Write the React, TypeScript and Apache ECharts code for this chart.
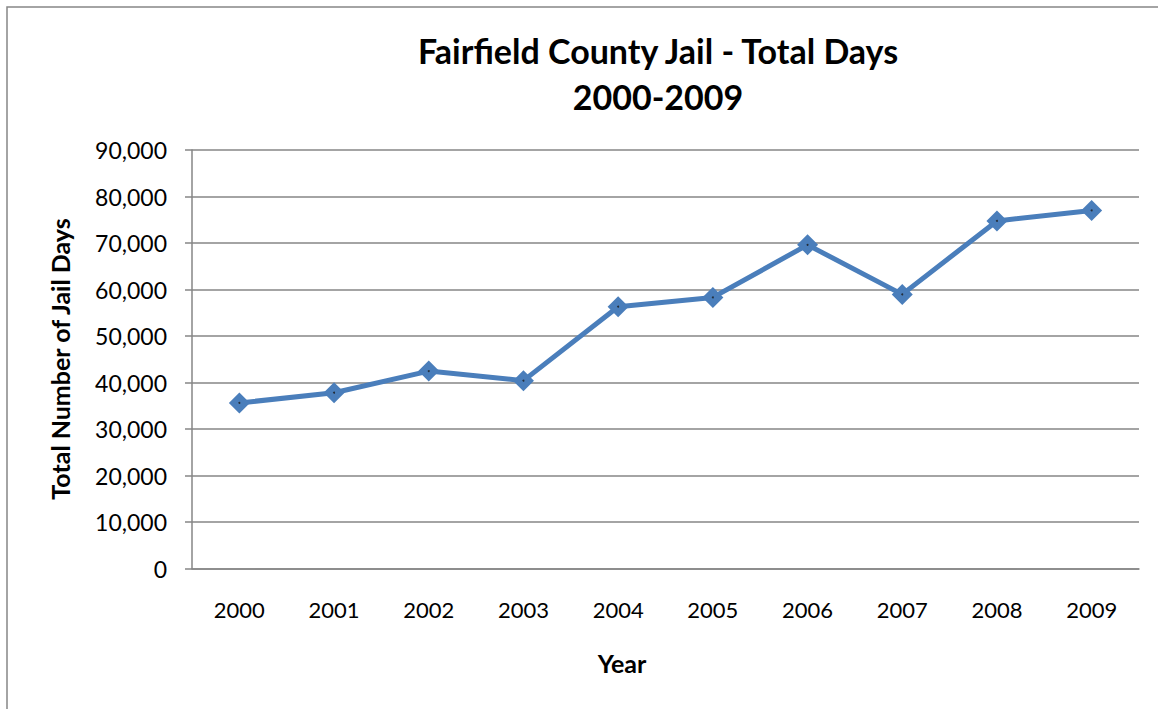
import React, { useEffect, useRef } from "react";
import * as echarts from "echarts";

const years = ["2000", "2001", "2002", "2003", "2004", "2005", "2006", "2007", "2008", "2009"];
const totalDays = [35600, 37800, 42450, 40400, 56300, 58300, 69600, 58950, 74750, 77000];
const titleLines = ["Fairfield County Jail - Total Days", "2000-2009"];
const yAxisTitle = "Total Number of Jail Days";
const xAxisTitle = "Year";

const FONT = "Lato, 'Open Sans', sans-serif";

export default function App() {
  const ref = useRef<HTMLDivElement>(null);
  useEffect(() => {
    if (!ref.current) return;
    const chart = echarts.init(ref.current, null, { renderer: "svg" });
    chart.setOption({
      animation: false,
      backgroundColor: "#ffffff",
      grid: { left: 192, right: 19, top: 150, bottom: 140.5, containLabel: false },
      graphic: [
        {
          type: "rect",
          shape: { x: 7, y: 7, width: 1300, height: 900 },
          style: { fill: "none", stroke: "#878787", lineWidth: 1.5 },
          silent: true,
          z: -1,
        },
        {
          type: "text",
          x: 658,
          y: 50,
          style: {
            text: titleLines[0],
            fill: "#000",
            font: `bold 34px ${FONT}`,
            textAlign: "center",
            textVerticalAlign: "middle",
          },
        },
        {
          type: "text",
          x: 658,
          y: 96,
          style: {
            text: titleLines[1],
            fill: "#000",
            font: `bold 34px ${FONT}`,
            textAlign: "center",
            textVerticalAlign: "middle",
          },
        },
        {
          type: "text",
          x: 60,
          y: 359,
          rotation: Math.PI / 2,
          style: {
            text: yAxisTitle,
            fill: "#000",
            font: `bold 25px ${FONT}`,
            textAlign: "center",
            textVerticalAlign: "middle",
          },
        },
        {
          type: "text",
          x: 622,
          y: 663,
          style: {
            text: xAxisTitle,
            fill: "#000",
            font: `bold 25px ${FONT}`,
            textAlign: "center",
            textVerticalAlign: "middle",
          },
        },
      ],
      xAxis: {
        type: "category",
        data: years,
        boundaryGap: true,
        axisLine: { show: true, lineStyle: { color: "#868686", width: 1.5 } },
        axisTick: { show: false },
        axisLabel: { color: "#000", fontSize: 22, fontFamily: FONT, margin: 30 },
        splitLine: { show: false },
      },
      yAxis: {
        type: "value",
        min: 0,
        max: 90000,
        interval: 10000,
        axisLine: { show: true, lineStyle: { color: "#868686", width: 1.5 } },
        axisTick: { show: true, length: 7, lineStyle: { color: "#868686", width: 1.5 } },
        axisLabel: {
          color: "#000",
          fontSize: 23,
          fontFamily: FONT,
          margin: 25,
          formatter: (v: number) => v.toLocaleString("en-US"),
        },
        splitLine: { show: true, lineStyle: { color: "#868686", width: 1.5 } },
      },
      series: [
        {
          type: "line",
          data: totalDays,
          symbol: "diamond",
          symbolSize: 21,
          lineStyle: { color: "#4A7EBB", width: 5 },
          itemStyle: { color: "#4A7EBB" },
          z: 3,
        },
        {
          type: "scatter",
          data: totalDays,
          symbol: "circle",
          symbolSize: 2,
          itemStyle: { color: "#1a1a1a" },
          z: 4,
          silent: true,
        },
      ],
    });
    return () => chart.dispose();
  }, []);
  return (
    <div
      ref={ref}
      style={{ position: "fixed", left: 0, top: 0, width: 1158, height: 709 }}
    />
  );
}
